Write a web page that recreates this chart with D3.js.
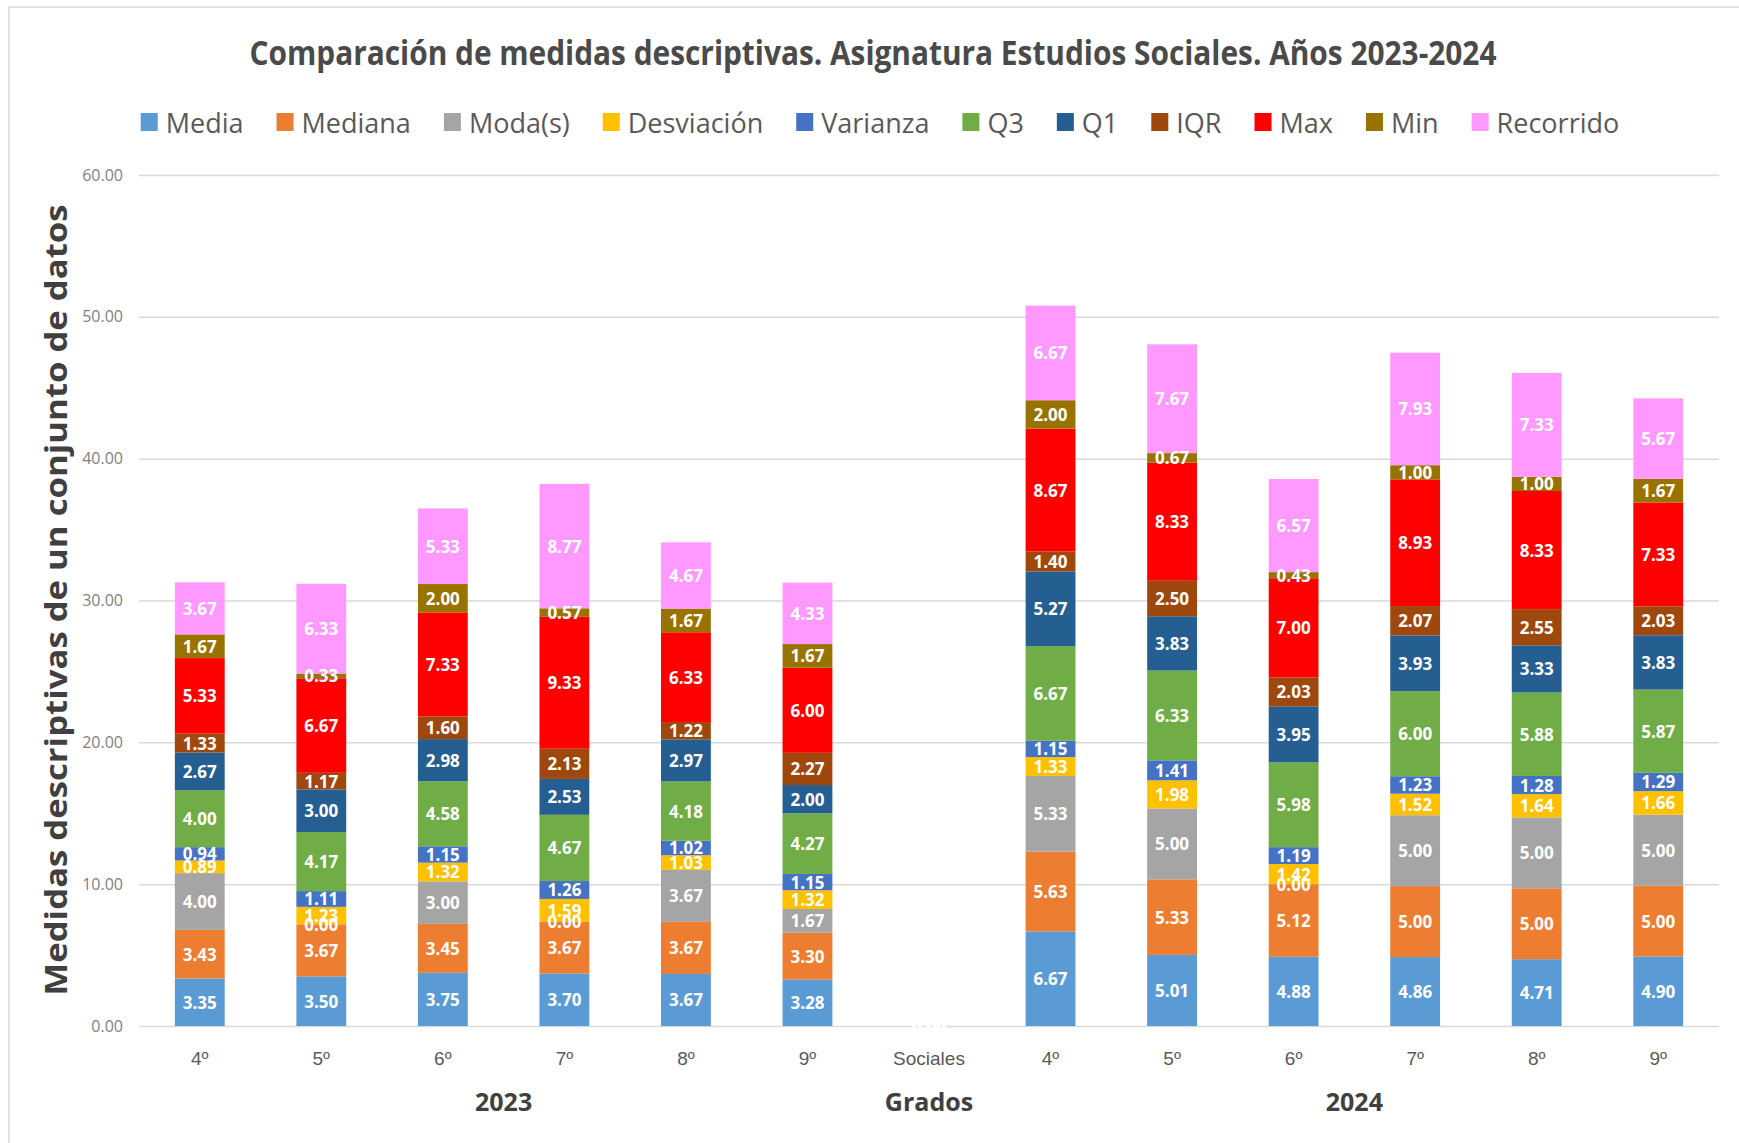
<!DOCTYPE html>
<html>
<head>
<meta charset="utf-8">
<script src="https://cdn.jsdelivr.net/npm/d3@7"></script>
<style>
    body { margin: 0; background: #ffffff; }
    svg { display: block; font-family: "Open Sans", sans-serif; }
</style>
</head>
<body>
<script>
//Chart data.
const categories = ["4º", "5º", "6º", "7º", "8º", "9º", "Sociales", "4º", "5º", "6º", "7º", "8º", "9º"];
const groupNames = ["2023", "Grados", "2024"];
const groupSpans = [[0, 5], [6, 6], [7, 12]];

const seriesNames = ["Media", "Mediana", "Moda(s)", "Desviación", "Varianza", "Q3", "Q1", "IQR", "Max", "Min", "Recorrido"];
const seriesColors = ["#5b9bd5", "#ed7d31", "#a5a5a5", "#ffc000", "#4472c4", "#70ad47", "#255e91", "#9e480e", "#ff0000", "#997300", "#ff99ff"];

const media      = [3.35, 3.50, 3.75, 3.70, 3.67, 3.28, 0, 6.67, 5.01, 4.88, 4.86, 4.71, 4.90];
const mediana    = [3.43, 3.67, 3.45, 3.67, 3.67, 3.30, 0, 5.63, 5.33, 5.12, 5.00, 5.00, 5.00];
const moda       = [4.00, 0.00, 3.00, 0.00, 3.67, 1.67, 0, 5.33, 5.00, 0.00, 5.00, 5.00, 5.00];
const desviacion = [0.89, 1.23, 1.32, 1.59, 1.03, 1.32, 0, 1.33, 1.98, 1.42, 1.52, 1.64, 1.66];
const varianza   = [0.94, 1.11, 1.15, 1.26, 1.02, 1.15, 0, 1.15, 1.41, 1.19, 1.23, 1.28, 1.29];
const q3         = [4.00, 4.17, 4.58, 4.67, 4.18, 4.27, 0, 6.67, 6.33, 5.98, 6.00, 5.88, 5.87];
const q1         = [2.67, 3.00, 2.98, 2.53, 2.97, 2.00, 0, 5.27, 3.83, 3.95, 3.93, 3.33, 3.83];
const iqr        = [1.33, 1.17, 1.60, 2.13, 1.22, 2.27, 0, 1.40, 2.50, 2.03, 2.07, 2.55, 2.03];
const maxVals    = [5.33, 6.67, 7.33, 9.33, 6.33, 6.00, 0, 8.67, 8.33, 7.00, 8.93, 8.33, 7.33];
const minVals    = [1.67, 0.33, 2.00, 0.57, 1.67, 1.67, 0, 2.00, 0.67, 0.43, 1.00, 1.00, 1.67];
const recorrido  = [3.67, 6.33, 5.33, 8.77, 4.67, 4.33, 0, 6.67, 7.67, 6.57, 7.93, 7.33, 5.67];

const yTicks = [0, 10, 20, 30, 40, 50, 60];

const seriesValues = [media, mediana, moda, desviacion, varianza, q3, q1, iqr, maxVals, minVals, recorrido];

//One row per category, keyed by series name, for d3.stack().
const rows = categories.map((c, i) => {
    let row = {key: i + "-" + c, label: c};
    seriesNames.forEach((s, j) => { row[s] = seriesValues[j][i]; });
    return row;
});

const width = 1739;
const height = 1143;
const plot = {left: 139, right: 1719, top: 175, bottom: 1026};

const svg = d3.select("body").append("svg").attr("width", width).attr("height", height);

//Chart frame.
svg.append("rect")
    .attr("x", 9).attr("y", 7)
    .attr("width", width + 20).attr("height", height + 20)
    .attr("fill", "#ffffff")
    .attr("stroke", "#d9d9d9")
    .attr("stroke-width", 1.5);

//Scales.
const xScale = d3.scaleBand()
    .domain(rows.map((d) => d.key))
    .range([plot.left, plot.right])
    .paddingInner(0.59)
    .paddingOuter(0.295);

const yScale = d3.scaleLinear().domain([0, 60]).range([plot.bottom, plot.top]);

//Gridlines and y tick labels.
const yAxis = d3.axisLeft(yScale)
    .tickValues(yTicks)
    .tickSize(-(plot.right - plot.left))
    .tickPadding(16)
    .tickFormat(d3.format(".2f"));

const yAxisG = svg.append("g")
    .attr("transform", "translate(" + plot.left + ",0)")
    .call(yAxis);
yAxisG.select(".domain").remove();
yAxisG.selectAll(".tick line").attr("stroke", "#d9d9d9").attr("stroke-width", 1.5);
yAxisG.selectAll(".tick text")
    .attr("fill", "#7f7f7f")
    .style("font-size", "16px")
    .style("font-family", "'Open Sans', sans-serif");

//Stacked bars.
const stacked = d3.stack().keys(seriesNames)(rows);

const layers = svg.append("g").selectAll("g")
    .data(stacked)
    .enter()
    .append("g")
    .attr("fill", (d, i) => seriesColors[i]);

layers.selectAll("rect")
    .data((d) => d)
    .enter()
    .append("rect")
    .attr("x", (d) => xScale(d.data.key))
    .attr("y", (d) => yScale(d[1]))
    .attr("width", xScale.bandwidth())
    .attr("height", (d) => yScale(d[0]) - yScale(d[1]));

//Data labels, drawn series by series like the original.
const labelG = svg.append("g");
stacked.forEach((layer) => {
    labelG.selectAll(null)
        .data(layer)
        .enter()
        .append("text")
        .attr("x", (d) => xScale(d.data.key) + xScale.bandwidth() / 2)
        .attr("y", (d) => yScale((d[0] + d[1]) / 2))
        .attr("text-anchor", "middle")
        .attr("dominant-baseline", "central")
        .attr("fill", "#ffffff")
        .style("font-size", "17px")
        .style("font-weight", "bold")
        .text((d) => (d[1] - d[0]).toFixed(2));
});

//Category labels, first level.
svg.append("g").selectAll("text")
    .data(rows)
    .enter()
    .append("text")
    .attr("x", (d) => xScale(d.key) + xScale.bandwidth() / 2)
    .attr("y", 1058)
    .attr("text-anchor", "middle")
    .attr("dominant-baseline", "central")
    .attr("fill", "#595959")
    .style("font-family", "'Liberation Sans', Arial, sans-serif")
    .style("font-size", "19px")
    .text((d) => d.label);

//Category labels, second level (groups).
svg.append("g").selectAll("text")
    .data(groupNames)
    .enter()
    .append("text")
    .attr("x", (d, i) => {
        let a = xScale(rows[groupSpans[i][0]].key);
        let b = xScale(rows[groupSpans[i][1]].key) + xScale.bandwidth();
        return (a + b) / 2;
    })
    .attr("y", 1101)
    .attr("text-anchor", "middle")
    .attr("dominant-baseline", "central")
    .attr("fill", "#404040")
    .style("font-size", "25px")
    .style("font-weight", "bold")
    .text((d) => d);

//Title.
svg.append("text")
    .attr("x", 873)
    .attr("y", 52)
    .attr("text-anchor", "middle")
    .attr("dominant-baseline", "central")
    .attr("fill", "#4a4a4a")
    .attr("textLength", 1247)
    .attr("lengthAdjust", "spacingAndGlyphs")
    .style("font-size", "34px")
    .style("font-weight", "bold")
    .text("Comparación de medidas descriptivas. Asignatura Estudios Sociales. Años 2023-2024");

//Y axis title.
svg.append("text")
    .attr("transform", "translate(55,600) rotate(-90)")
    .attr("text-anchor", "middle")
    .attr("dominant-baseline", "central")
    .attr("fill", "#404040")
    .attr("textLength", 791)
    .attr("lengthAdjust", "spacingAndGlyphs")
    .style("font-size", "31px")
    .style("font-weight", "bold")
    .text("Medidas descriptivas de un conjunto de datos");

//Legend: laid out left to right, then centred under the title.
const legend = svg.append("g");
let cursor = 0;
seriesNames.forEach((name, i) => {
    let item = legend.append("g").attr("transform", "translate(" + cursor + ",0)");
    item.append("rect")
        .attr("x", 0).attr("y", -9)
        .attr("width", 17).attr("height", 18)
        .attr("fill", seriesColors[i]);
    let t = item.append("text")
        .attr("x", 25)
        .attr("y", 0)
        .attr("dominant-baseline", "central")
        .attr("fill", "#595959")
        .style("font-size", "27px")
        .text(name);
    cursor += 25 + t.node().getComputedTextLength() + 33;
});
const legendWidth = cursor - 33;
legend.attr("transform", "translate(" + (880 - legendWidth / 2) + ",122)");
</script>
</body>
</html>
